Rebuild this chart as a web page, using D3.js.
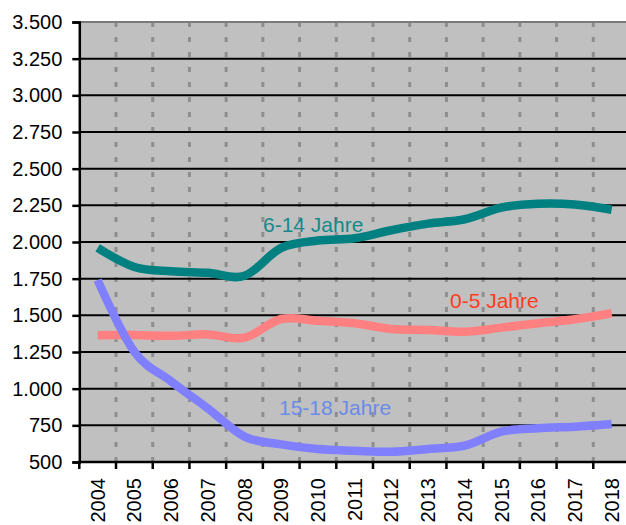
<!DOCTYPE html>
<html>
<head>
<meta charset="utf-8">
<script src="https://cdn.jsdelivr.net/npm/d3@7"></script>
<style>
  body { margin: 0; background: #fff; }
  text { font-family: "Liberation Sans", Arial, sans-serif; }
</style>
</head>
<body>
<div id="chart"></div>
<script>
// Kinder / Jugendliche nach Altersgruppe, 2004-2018
const years = ["2004", "2005", "2006", "2007", "2008", "2009", "2010", "2011",
               "2012", "2013", "2014", "2015", "2016", "2017", "2018"]
const age6to14 = [1960, 1830, 1800, 1790, 1770, 1960, 2010, 2025, 2080, 2125, 2155, 2235, 2260, 2255, 2220]
const age0to5 = [1365, 1366, 1360, 1370, 1348, 1475, 1463, 1446, 1407, 1400, 1388, 1416, 1446, 1473, 1514]
const age15to18 = [1740, 1252, 1050, 866, 673, 620, 588, 577, 570, 589, 611, 707, 730, 741, 759]
const yTicks = [500, 750, 1000, 1250, 1500, 1750, 2000, 2250, 2500, 2750, 3000, 3250, 3500]

const series = [
  { name: "6-14 Jahre", values: age6to14, color: "#008080", textColor: "#138a8a", label: [263, 225] },
  { name: "0-5 Jahre", values: age0to5, color: "#ff8080", textColor: "#ff3c1e", label: [450, 301] },
  { name: "15-18 Jahre", values: age15to18, color: "#8080ff", textColor: "#6a8be8", label: [279, 408] }
]

const width = 626, height = 525
const plotLeft = 79.3, plotRight = 630, plotTop = 22, plotBottom = 462

const de = d3.formatLocale({ decimal: ",", thousands: ".", grouping: [3], currency: ["", " €"] })
const fmt = de.format(",d")

const svg = d3.select("#chart").append("svg")
    .attr("width", width)
    .attr("height", height)

const x = d3.scaleBand().domain(years).range([plotLeft, plotRight]).padding(0)
const y = d3.scaleLinear().domain([500, 3500]).range([plotBottom, plotTop])
const cx = d => x(d) + x.bandwidth() / 2

// plot background
svg.append("rect")
    .attr("x", plotLeft).attr("y", plotTop)
    .attr("width", plotRight - plotLeft).attr("height", plotBottom - plotTop)
    .attr("fill", "#c0c0c0")

// vertical dashed grid at category boundaries
svg.append("g").selectAll("line").data(years.slice(1)).enter()
  .append("line")
    .attr("x1", d => x(d)).attr("x2", d => x(d))
    .attr("y1", plotTop).attr("y2", plotBottom)
    .attr("stroke", "#8e8e8e")
    .attr("stroke-width", 3)
    .attr("stroke-dasharray", "5,10")

// horizontal grid
svg.append("g").selectAll("line").data(yTicks.slice(1)).enter()
  .append("line")
    .attr("x1", plotLeft).attr("x2", plotRight)
    .attr("y1", d => y(d)).attr("y2", d => y(d))
    .attr("stroke", d => d === 3500 ? "#7a7a7a" : "#000")
    .attr("stroke-width", 2)

// lines
const line = d3.line()
    .x((v, i) => cx(years[i]))
    .y(v => y(v))
    .curve(d3.curveCatmullRom.alpha(0))

svg.append("g").selectAll("path").data(series).enter()
  .append("path")
    .attr("d", d => line(d.values))
    .attr("fill", "none")
    .attr("stroke", d => d.color)
    .attr("stroke-width", 8.5)

svg.append("g").selectAll("text").data(series).enter()
  .append("text")
    .attr("x", d => d.label[0])
    .attr("y", d => d.label[1])
    .attr("dy", "0.35em")
    .attr("fill", d => d.textColor)
    .style("font-size", "21px")
    .text(d => d.name)

// y axis
const yAxis = svg.append("g")
    .attr("transform", `translate(${plotLeft},0)`)
    .call(d3.axisLeft(y).tickValues(yTicks).tickFormat(fmt).tickSize(7).tickPadding(10))
yAxis.select(".domain").attr("stroke", "#000").attr("stroke-width", 2.5)
yAxis.selectAll(".tick line").attr("stroke", "#000").attr("stroke-width", 2.5)
yAxis.selectAll("text")
    .attr("fill", "#000")
    .style("font-size", "20px")
    .style("font-family", "'Liberation Sans', Arial, sans-serif")

// x axis, ticks between categories
const xg = svg.append("g")
xg.append("line")
    .attr("x1", plotLeft - 1).attr("x2", plotRight)
    .attr("y1", plotBottom).attr("y2", plotBottom)
    .attr("stroke", "#000").attr("stroke-width", 2.5)
xg.selectAll(".xt").data(years).enter()
  .append("line").attr("class", "xt")
    .attr("x1", d => x(d)).attr("x2", d => x(d))
    .attr("y1", plotBottom).attr("y2", plotBottom + 7)
    .attr("stroke", "#000").attr("stroke-width", 2.5)
xg.selectAll("text").data(years).enter()
  .append("text")
    .attr("transform", d => `translate(${cx(d)},478) rotate(-90)`)
    .attr("text-anchor", "end")
    .attr("dy", "0.35em")
    .attr("fill", "#000")
    .style("font-size", "20px")
    .text(d => d)
</script>
</body>
</html>
